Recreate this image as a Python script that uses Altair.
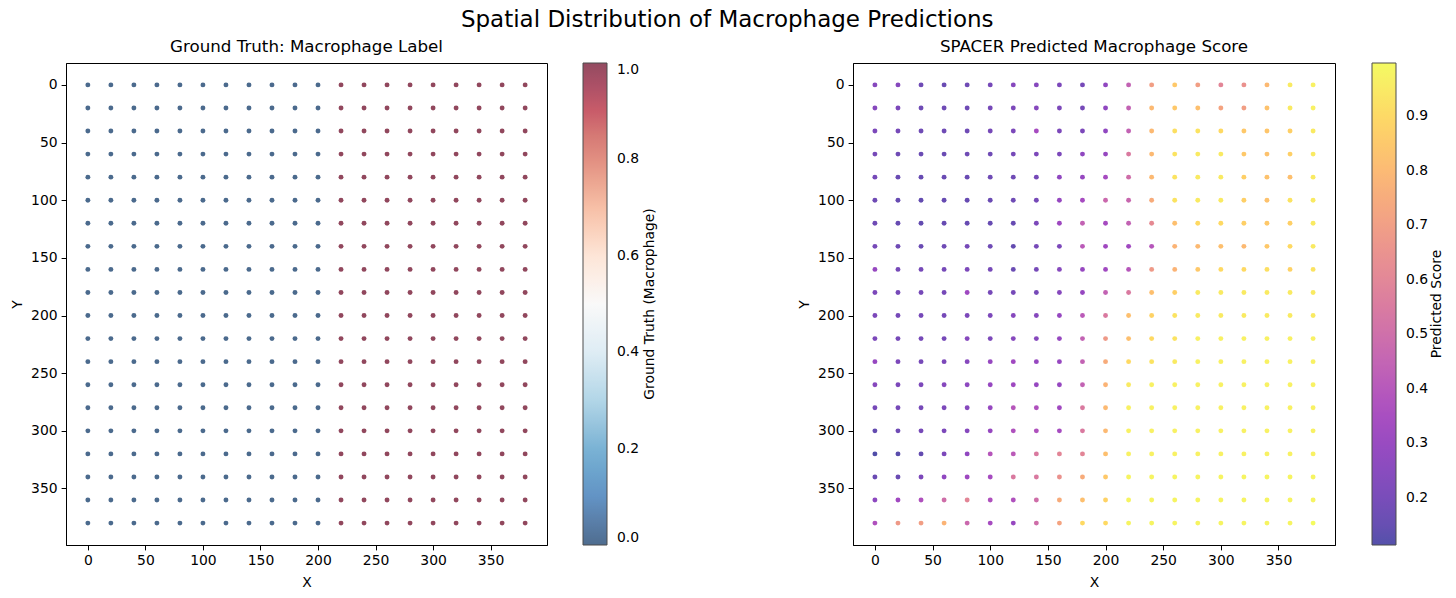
import altair as alt
import pandas as pd

# ---------------- data ----------------
x_values = [0, 20, 40, 60, 80, 100, 120, 140, 160, 180, 200, 220, 240, 260, 280, 300, 320, 340, 360, 380]
y_values = [0, 20, 40, 60, 80, 100, 120, 140, 160, 180, 200, 220, 240, 260, 280, 300, 320, 340, 360, 380]

# ground-truth label per column (x)
gt_by_column = [0, 0, 0, 0, 0, 0, 0, 0, 0, 0, 0, 1, 1, 1, 1, 1, 1, 1, 1, 1]

# predicted score, one list per row (y = 0 ... 380), columns x = 0 ... 380
score_y000 = [0.25, 0.25, 0.18, 0.17, 0.18, 0.20, 0.25, 0.25, 0.22, 0.20, 0.28, 0.45, 0.70, 0.85, 0.70, 0.60, 0.65, 0.80, 0.95, 0.97]
score_y020 = [0.25, 0.22, 0.18, 0.18, 0.18, 0.20, 0.22, 0.25, 0.22, 0.20, 0.28, 0.45, 0.80, 0.85, 0.82, 0.72, 0.70, 0.83, 0.95, 0.97]
score_y040 = [0.22, 0.20, 0.18, 0.18, 0.18, 0.20, 0.22, 0.35, 0.22, 0.22, 0.28, 0.45, 0.80, 0.92, 0.93, 0.90, 0.85, 0.84, 0.87, 0.95]
score_y060 = [0.20, 0.18, 0.17, 0.17, 0.18, 0.18, 0.20, 0.22, 0.22, 0.28, 0.30, 0.55, 0.80, 0.93, 0.95, 0.95, 0.85, 0.83, 0.87, 0.95]
score_y080 = [0.20, 0.17, 0.16, 0.17, 0.17, 0.18, 0.18, 0.20, 0.28, 0.30, 0.35, 0.50, 0.80, 0.93, 0.95, 0.95, 0.87, 0.83, 0.82, 0.95]
score_y100 = [0.18, 0.16, 0.15, 0.16, 0.16, 0.17, 0.18, 0.20, 0.30, 0.35, 0.48, 0.47, 0.75, 0.93, 0.95, 0.95, 0.87, 0.83, 0.93, 0.95]
score_y120 = [0.18, 0.16, 0.15, 0.16, 0.16, 0.16, 0.16, 0.22, 0.32, 0.45, 0.35, 0.45, 0.62, 0.82, 0.90, 0.90, 0.87, 0.85, 0.87, 0.95]
score_y140 = [0.20, 0.18, 0.17, 0.18, 0.20, 0.18, 0.15, 0.20, 0.22, 0.42, 0.33, 0.33, 0.40, 0.78, 0.80, 0.82, 0.80, 0.85, 0.90, 0.95]
score_y160 = [0.30, 0.20, 0.20, 0.20, 0.22, 0.20, 0.17, 0.20, 0.25, 0.30, 0.33, 0.40, 0.68, 0.78, 0.85, 0.90, 0.90, 0.92, 0.88, 0.93]
score_y180 = [0.22, 0.20, 0.20, 0.20, 0.32, 0.20, 0.20, 0.20, 0.25, 0.30, 0.45, 0.55, 0.82, 0.87, 0.95, 0.95, 0.95, 0.95, 0.95, 0.95]
score_y200 = [0.22, 0.20, 0.20, 0.20, 0.22, 0.22, 0.25, 0.25, 0.30, 0.42, 0.55, 0.82, 0.88, 0.93, 0.95, 0.95, 0.95, 0.95, 0.95, 0.95]
score_y220 = [0.22, 0.20, 0.20, 0.20, 0.25, 0.22, 0.25, 0.25, 0.30, 0.45, 0.68, 0.82, 0.90, 0.93, 0.97, 0.97, 0.97, 0.97, 0.97, 0.97]
score_y240 = [0.30, 0.22, 0.20, 0.22, 0.25, 0.30, 0.33, 0.30, 0.30, 0.45, 0.75, 0.90, 0.93, 0.95, 0.97, 0.97, 0.97, 0.97, 0.97, 0.97]
score_y260 = [0.25, 0.22, 0.22, 0.25, 0.27, 0.30, 0.32, 0.30, 0.30, 0.45, 0.78, 0.95, 0.97, 0.97, 0.97, 0.97, 0.97, 0.97, 0.97, 0.97]
score_y280 = [0.20, 0.20, 0.20, 0.22, 0.25, 0.30, 0.40, 0.38, 0.33, 0.55, 0.80, 0.97, 0.97, 0.97, 0.97, 0.97, 0.97, 0.97, 0.97, 0.97]
score_y300 = [0.15, 0.18, 0.20, 0.22, 0.25, 0.30, 0.38, 0.38, 0.35, 0.55, 0.80, 0.97, 0.97, 0.97, 0.97, 0.97, 0.97, 0.97, 0.97, 0.97]
score_y320 = [0.114, 0.13, 0.15, 0.22, 0.28, 0.40, 0.42, 0.55, 0.60, 0.60, 0.82, 0.97, 0.97, 0.97, 0.97, 0.97, 0.97, 0.97, 0.97, 0.97]
score_y340 = [0.17, 0.17, 0.22, 0.28, 0.32, 0.35, 0.55, 0.55, 0.65, 0.75, 0.85, 0.98, 0.98, 0.98, 0.98, 0.98, 0.98, 0.98, 0.98, 0.98]
score_y360 = [0.27, 0.33, 0.38, 0.50, 0.60, 0.38, 0.38, 0.50, 0.75, 0.82, 0.88, 0.98, 0.98, 0.98, 0.98, 0.98, 0.98, 0.98, 0.98, 0.98]
score_y380 = [0.38, 0.68, 0.70, 0.78, 0.48, 0.35, 0.30, 0.50, 0.72, 0.90, 0.90, 0.98, 0.98, 0.98, 0.98, 0.98, 0.98, 0.98, 0.98, 0.997]

score_rows = [score_y000, score_y020, score_y040, score_y060, score_y080, score_y100, score_y120,
              score_y140, score_y160, score_y180, score_y200, score_y220, score_y240, score_y260,
              score_y280, score_y300, score_y320, score_y340, score_y360, score_y380]

axis_ticks = [0, 50, 100, 150, 200, 250, 300, 350]
gt_ticks = [0.0, 0.2, 0.4, 0.6, 0.8, 1.0]
score_ticks = [0.2, 0.3, 0.4, 0.5, 0.6, 0.7, 0.8, 0.9]

# matplotlib RdBu_r colour stops
rdbu_r_stops = [0.0, 0.1, 0.2, 0.3, 0.4, 0.5, 0.6, 0.7, 0.8, 0.9, 1.0]
rdbu_r_colors = ["#053061", "#2166ac", "#4393c3", "#92c5de", "#d1e5f0", "#f7f7f7",
                 "#fddbc7", "#f4a582", "#d6604d", "#b2182b", "#67001f"]

records = []
for i, yv in enumerate(y_values):
    for j, xv in enumerate(x_values):
        records.append({"X": xv, "Y": yv, "gt": gt_by_column[j], "score": score_rows[i][j]})
df = pd.DataFrame(records)

# ---------------- styling ----------------
FONT = "DejaVu Sans"
TICK_FS = 13.9
TITLE_FS = 16.7
PLOT_H = 482


def xy():
    x = alt.X("X:Q",
              scale=alt.Scale(domain=[-19, 399], nice=False, zero=False),
              axis=alt.Axis(values=axis_ticks, title="X"))
    y = alt.Y("Y:Q",
              scale=alt.Scale(domain=[-19, 399], reverse=True, nice=False, zero=False),
              axis=alt.Axis(values=axis_ticks, title="Y"))
    return x, y


def legend(values, offset):
    return alt.Legend(
        title=None, values=values, format=".1f",
        direction="vertical", orient="right",
        gradientLength=482, gradientThickness=24,
        gradientStrokeColor="black", gradientStrokeWidth=1, gradientOpacity=0.7,
        labelOverlap=False, labelBaseline="middle", labelAlign="left",
        labelOffset=10, labelFontSize=TICK_FS, labelFont=FONT, labelColor="black",
        offset=offset, padding=0,
    )


def panel(field, scale, values, cbar_title, width, offset, cbar_x, title):
    x, y = xy()
    pts = alt.Chart(df).mark_circle(size=24, opacity=0.72).encode(
        x=x, y=y,
        color=alt.Color(field, scale=scale, legend=legend(values, offset)),
    )
    lab = alt.Chart(pd.DataFrame({"t": [cbar_title]})).mark_text(
        angle=270, align="center", baseline="middle",
        font=FONT, fontSize=TICK_FS, color="black",
    ).encode(
        x=alt.value(cbar_x), y=alt.value(PLOT_H / 2), text="t:N"
    )
    return alt.layer(pts, lab).properties(
        width=width, height=PLOT_H,
        title=alt.Title(title, fontSize=TITLE_FS, fontWeight="normal", font=FONT,
                        color="black", offset=7),
    )


left = panel("gt:Q", alt.Scale(domain=rdbu_r_stops, range=rdbu_r_colors), gt_ticks,
             "Ground Truth (Macrophage)", 481, 36, 584, "Ground Truth: Macrophage Label")
right = panel("score:Q", alt.Scale(scheme="plasma", domain=[0.114, 0.997]), score_ticks,
              "Predicted Score", 482, 37, 584, "SPACER Predicted Macrophage Score")

chart = alt.hconcat(
    left, right, spacing=139,
    title=alt.Title("Spatial Distribution of Macrophage Predictions", fontSize=23,
                    fontWeight="normal", font=FONT, color="black", anchor="middle", offset=7),
).resolve_scale(color="independent").properties(
    padding={"left": 10, "top": 8, "right": 5, "bottom": 5},
    background="white",
).configure_view(
    stroke="black", strokeWidth=1
).configure_axis(
    grid=False, domain=True, domainColor="black", domainWidth=1,
    ticks=True, tickColor="black", tickSize=4.9, tickWidth=1,
    labelFont=FONT, labelFontSize=TICK_FS, labelColor="black", labelPadding=4,
    titleFont=FONT, titleFontSize=TICK_FS, titleColor="black", titleFontWeight="normal",
    titlePadding=6, labelFlush=False,
).configure_axisX(
    titlePadding=8
)

chart.save("out.html", embed_options={"renderer": "svg", "actions": False})
